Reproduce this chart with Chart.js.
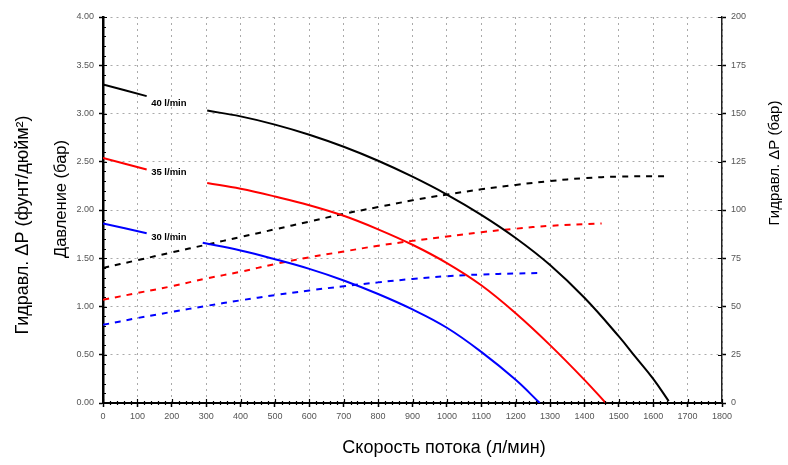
<!DOCTYPE html>
<html lang="ru">
<head>
  <meta charset="UTF-8">
  <title>Гидравл. ΔP</title>
  <script src="https://cdn.jsdelivr.net/npm/chart.js"></script>
  <style>
    body { margin: 0; background: #fff; }
    canvas { display: block; }
  </style>
</head>
<body>
<canvas id="myChart" width="788" height="465"></canvas>

<script>
/****************************************************************
  1) DATA (read off the reference picture)
     null = gap left in the curve for its label
****************************************************************/
const flow40  = [0, 127, 215, 303, 400, 500, 600, 700, 800, 900, 1000, 1100, 1200, 1300, 1400, 1500, 1550, 1600, 1645];
const pres40  = [3.30, 3.18, null, 3.03, 2.97, 2.885, 2.78, 2.655, 2.51, 2.345, 2.16, 1.95, 1.71, 1.43, 1.09, 0.69, 0.47, 0.25, 0.02];

const flow35  = [0, 127, 215, 303, 400, 500, 600, 700, 800, 900, 1000, 1100, 1200, 1300, 1400, 1462];
const pres35  = [2.54, 2.42, null, 2.28, 2.22, 2.14, 2.05, 1.94, 1.80, 1.64, 1.45, 1.22, 0.93, 0.60, 0.24, 0.0];

const flow30  = [0, 127, 210, 290, 400, 500, 600, 700, 800, 900, 1000, 1100, 1200, 1270];
const pres30  = [1.86, 1.76, null, 1.66, 1.58, 1.49, 1.39, 1.27, 1.13, 0.97, 0.78, 0.53, 0.24, 0.0];

// hydraulic dP, right axis (bar)
const hFlow40 = [0, 100, 200, 300, 400, 500, 600, 700, 800, 900, 1000, 1100, 1200, 1300, 1400, 1500, 1640];
const hyd40   = [70, 74, 78, 82, 86, 90, 94, 98, 101.5, 105, 108, 110.7, 113, 115, 116.5, 117.3, 117.5];

const hFlow35 = [0, 100, 200, 300, 400, 500, 600, 700, 800, 900, 1000, 1100, 1200, 1300, 1450];
const hyd35   = [53.5, 57, 60.5, 64.5, 68, 72, 75.5, 78.5, 81.5, 84, 86.3, 88.5, 90.3, 91.8, 93];

const hFlow30 = [0, 100, 200, 300, 400, 500, 600, 700, 800, 900, 1000, 1100, 1200, 1265];
const hyd30   = [40.5, 44, 47.2, 50.3, 53.2, 55.9, 58.3, 60.5, 62.5, 64.3, 65.7, 66.6, 67.1, 67.3];

const curveNames  = ['40 l/min', '35 l/min', '30 l/min'];
const curveColors = ['#000000', '#ff0000', '#0000ff'];

const xTitle      = 'Скорость потока (л/мин)';
const yPsiTitle   = 'Гидравл. ΔP (фунт/дюйм²)';
const yBarTitle   = 'Давление (бар)';
const y2Title     = 'Гидравл. ΔP (бар)';

/****************************************************************
  2) HELPERS
****************************************************************/
const FONT = "'Liberation Sans', Arial, sans-serif";

function pts(xs, ys) {
  return xs.map((x, i) => ({ x, y: ys[i] }));
}

// label anchors in data units (flow, bar)
const labelAnchors = [[140, 3.10], [140, 2.39], [140, 1.72]];

function rotatedText(ctx, text, x, y, font) {
  ctx.save();
  ctx.font = font;
  ctx.translate(x, y);
  ctx.rotate(-Math.PI / 2);
  ctx.fillText(text, 0, 0);
  ctx.restore();
}

const decorPlugin = {
  id: 'decor',
  afterDraw(chart) {
    const { ctx, chartArea: a, scales } = chart;
    const sx = scales.x, sy = scales.y, sy2 = scales.y2;

    ctx.save();
    ctx.strokeStyle = '#000';
    ctx.lineWidth = 1.2;

    // minor / crossing ticks on x axis
    ctx.beginPath();
    for (let v = 0; v <= 1800; v += 20) {
      const px = Math.round(sx.getPixelForValue(v)) + 0.5;
      const major = v % 100 === 0;
      ctx.moveTo(px, a.bottom - (major ? 4 : 2));
      ctx.lineTo(px, a.bottom + (major ? 0 : 2));
    }
    // minor ticks on left axis
    for (let i = 0; i <= 40; i++) {
      const py = Math.round(sy.getPixelForValue(i / 10)) + 0.5;
      const major = i % 5 === 0;
      ctx.moveTo(a.left, py);
      ctx.lineTo(a.left + (major ? 4 : 3), py);
    }
    // inner part of right axis ticks
    for (let v = 0; v <= 200; v += 25) {
      const py = Math.round(sy2.getPixelForValue(v)) + 0.5;
      ctx.moveTo(a.right - 4, py);
      ctx.lineTo(a.right, py);
    }
    ctx.stroke();

    // curve labels
    ctx.fillStyle = '#000';
    ctx.font = 'bold 9.5px ' + FONT;
    ctx.textAlign = 'left';
    ctx.textBaseline = 'middle';
    curveNames.forEach((name, i) => {
      ctx.fillText(name, sx.getPixelForValue(labelAnchors[i][0]), sy.getPixelForValue(labelAnchors[i][1]));
    });

    // axis titles
    ctx.textAlign = 'center';
    ctx.font = '18px ' + FONT;
    ctx.fillText(xTitle, a.left + 341, a.bottom + 45);

    rotatedText(ctx, yPsiTitle, a.left - 80, a.top + 208, '18px ' + FONT);
    rotatedText(ctx, yBarTitle, a.left - 42, a.top + 182, '16.5px ' + FONT);
    rotatedText(ctx, y2Title, a.right + 53, a.top + 146, '15px ' + FONT);

    ctx.restore();
  }
};

/****************************************************************
  3) CHART
****************************************************************/
const solid = (data, color) => ({
  data, borderColor: color, borderWidth: 2, pointRadius: 0,
  tension: 0.4, spanGaps: false, yAxisID: 'y'
});
const dashed = (data, color) => ({
  data, borderColor: color, borderWidth: 2, pointRadius: 0, borderDash: [6, 6],
  tension: 0.4, yAxisID: 'y2'
});

const tickFont = { family: FONT, size: 9 };

new Chart(document.getElementById('myChart').getContext('2d'), {
  type: 'line',
  data: {
    datasets: [
      solid(pts(flow40, pres40), curveColors[0]),
      solid(pts(flow35, pres35), curveColors[1]),
      solid(pts(flow30, pres30), curveColors[2]),
      dashed(pts(hFlow40, hyd40), curveColors[0]),
      dashed(pts(hFlow35, hyd35), curveColors[1]),
      dashed(pts(hFlow30, hyd30), curveColors[2])
    ]
  },
  options: {
    responsive: false,
    animation: false,
    layout: { padding: { top: 17, left: 0, right: 0, bottom: 0 } },
    plugins: { legend: { display: false }, tooltip: { enabled: false } },
    scales: {
      x: {
        type: 'linear', min: 0, max: 1800,
        ticks: { stepSize: 100, font: tickFont, color: '#555', padding: 4, maxRotation: 0,
                 callback: v => String(v) },
        grid: { color: '#aaa', lineWidth: 1, tickLength: 4, tickColor: '#000', tickWidth: 1.5 },
        border: { display: true, color: '#000', width: 2, dash: [2, 4] },
        afterFit(s) { s.height = 62; }
      },
      y: {
        position: 'left', min: 0, max: 4,
        ticks: { stepSize: 0.5, font: tickFont, color: '#555', padding: 5,
                 callback: v => v.toFixed(2) },
        grid: { color: '#aaa', lineWidth: 1, tickLength: 4, tickColor: '#000', tickWidth: 1.5 },
        border: { display: true, color: '#000', width: 2.5, dash: [2, 4] },
        afterFit(s) { s.width = 103; }
      },
      y2: {
        position: 'right', min: 0, max: 200,
        ticks: { stepSize: 25, font: tickFont, color: '#555', padding: 5 },
        grid: { drawOnChartArea: false, tickLength: 4, tickColor: '#000', tickWidth: 1.5 },
        border: { display: true, color: '#222', width: 1.5 },
        afterFit(s) { s.width = 66; }
      }
    }
  },
  plugins: [decorPlugin]
});
</script>
</body>
</html>
